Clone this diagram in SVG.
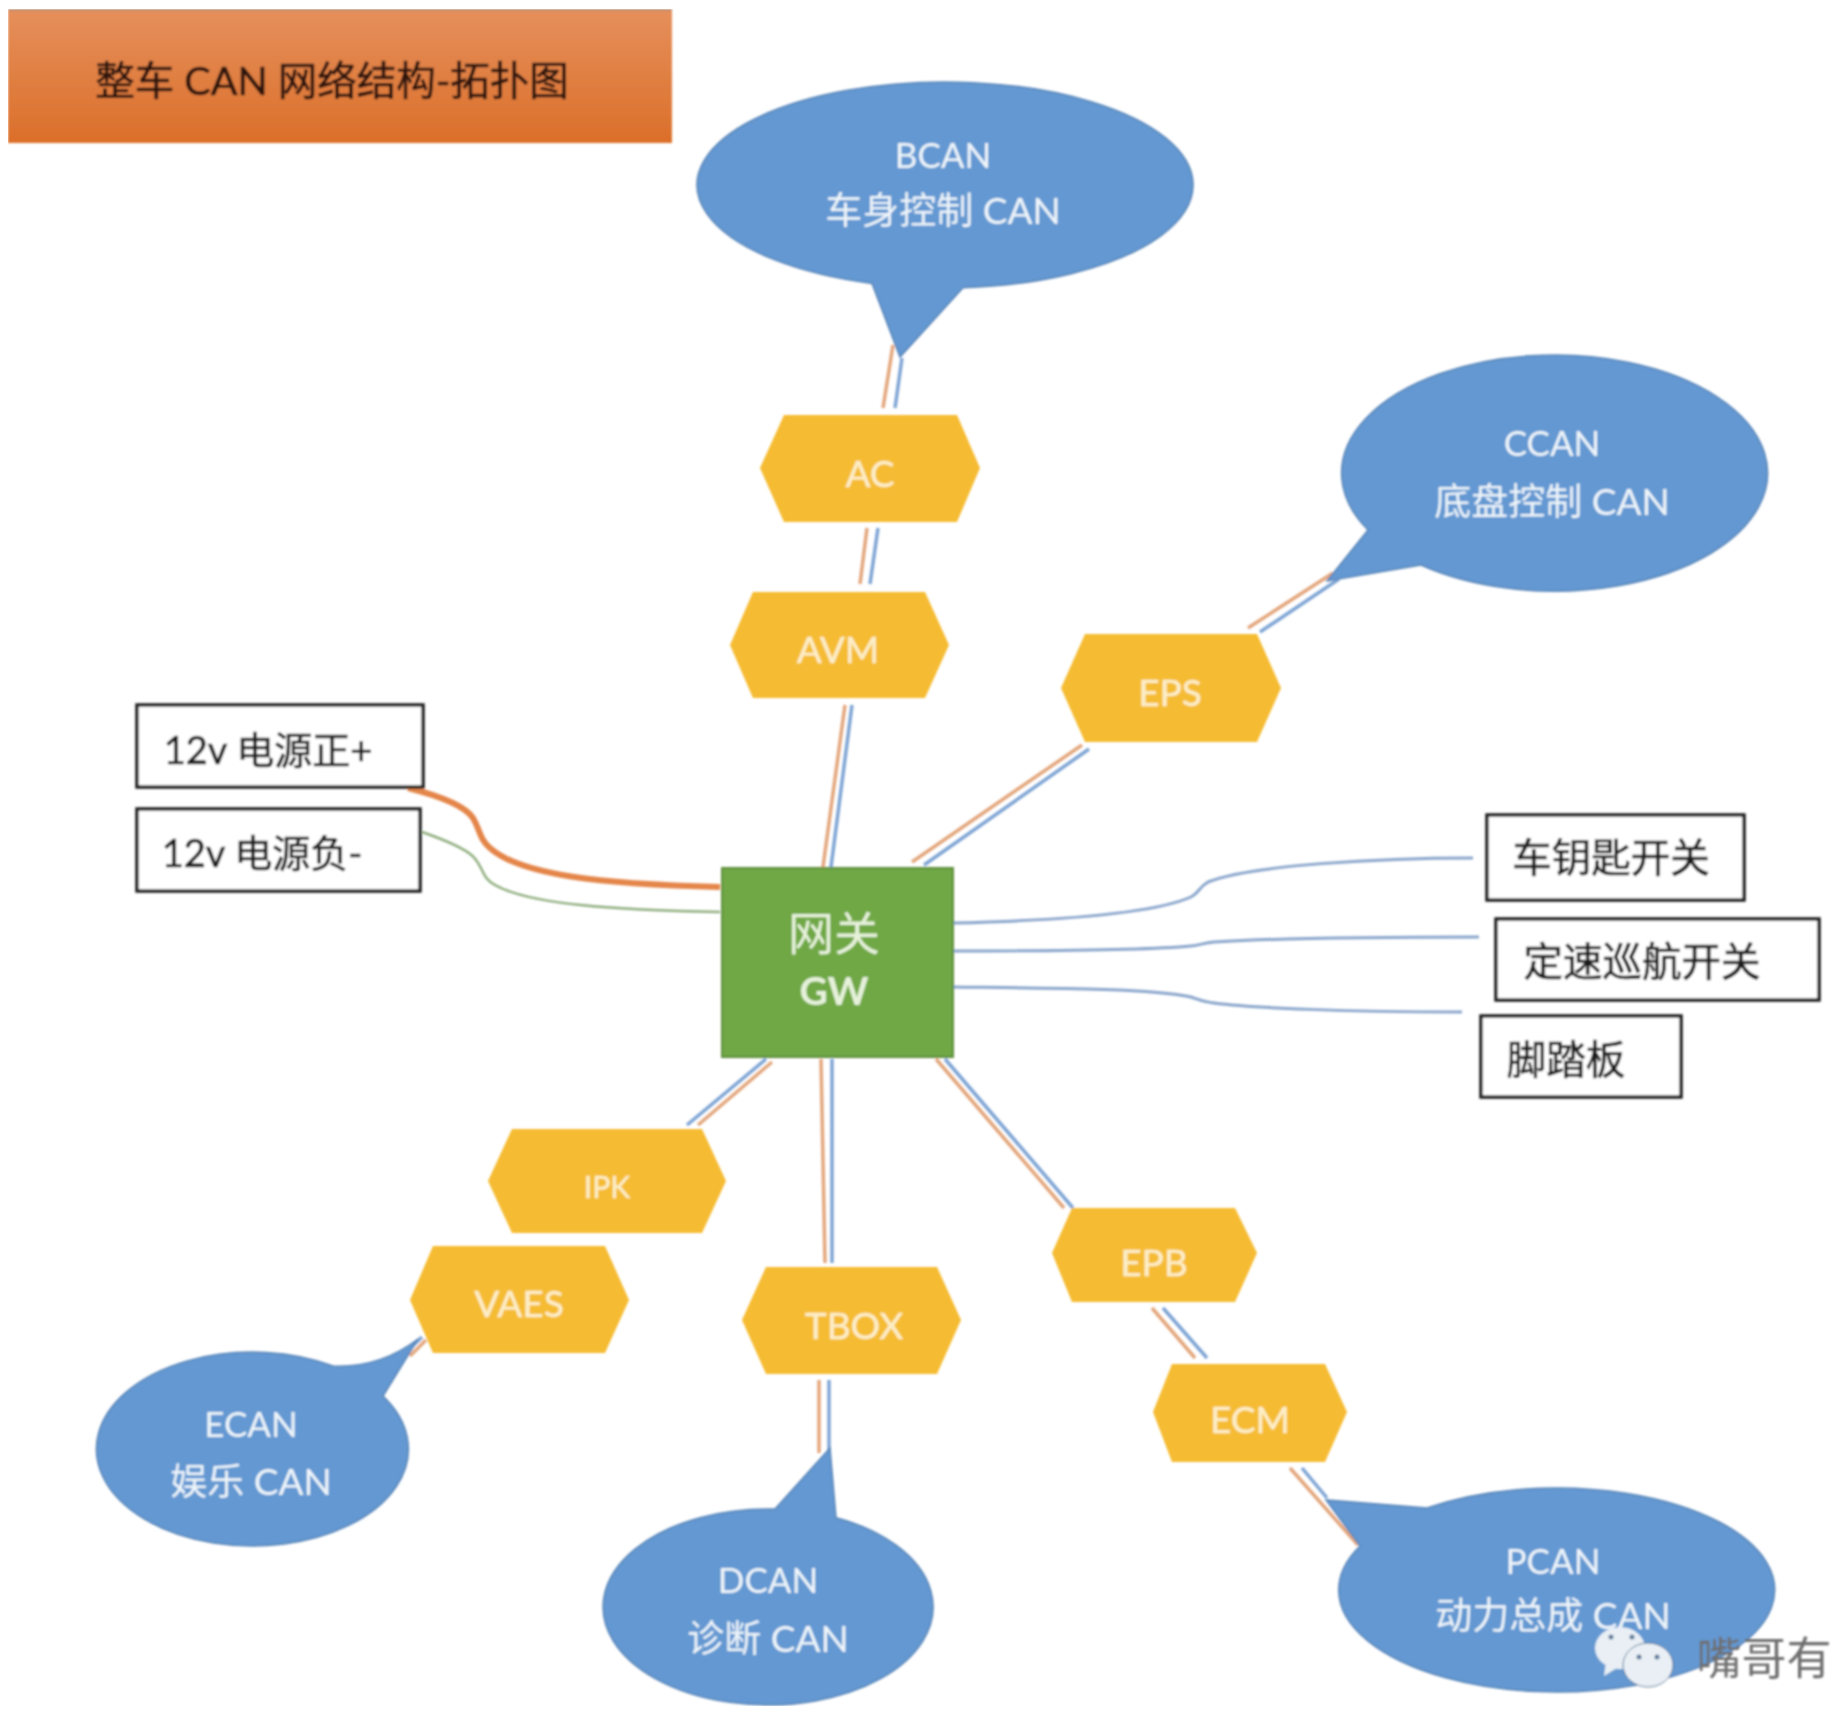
<svg xmlns="http://www.w3.org/2000/svg" width="1834" height="1720" viewBox="0 0 1834 1720">
<style>
text{font-family:Lato,"Noto Sans CJK SC",sans-serif;text-anchor:middle}
.b{fill:#6398d2;stroke:#5a86b8;stroke-width:1.5}
.h{fill:#f5bb30}
.w{fill:#eef5fa;font-size:35px}
.w2{fill:#eef5fa;font-size:37px}
.y{fill:#fdeec8;font-size:37px;stroke:#fdeec8;stroke-width:.4}
.box{fill:#fff;stroke:#222;stroke-width:3.5}
.k{fill:#1c1c1c;font-size:38px;stroke:#1c1c1c;stroke-width:.7}
.k2{fill:#1c1c1c;font-size:39.5px;stroke:#1c1c1c;stroke-width:.7}
.o{stroke:#e3a67c;stroke-width:3.5;fill:none}
.l{stroke:#7ea4d4;stroke-width:3.5;fill:none}
.s{stroke:#8aa6cc;stroke-width:3;fill:none}
.wc{fill:#e9eff5}
.eye{fill:#5f7a99}
</style>
<defs>
<linearGradient id="tg" x1="0" y1="0" x2="0" y2="1"><stop offset="0" stop-color="#e5905c"/><stop offset="1" stop-color="#dc6f2a"/></linearGradient>
<filter id="soft" x="0" y="0" width="100%" height="100%"><feGaussianBlur stdDeviation="0.8"/></filter>
</defs>
<g filter="url(#soft)">
<g id="connectors">
<path class="o" d="M893 345L883 408M867 528L860 584M845 705L823 867M1082 745L912 862M1248 628L1333 573M772 1062L698 1125M410 1356L426 1340M821 1059L825 1263M819 1380L819 1453M936 1059L1064 1208M1152 1308L1195 1358M1290 1468L1358 1545"/>
<path class="l" d="M902 358L895 408M878 528L870 584M852 705L831 867M1089 749L924 865M1260 632L1339 579M766 1059L687 1125M406 1352L422 1337M832 1059L832 1263M829 1380L829 1450M945 1059L1073 1208M1163 1308L1207 1358M1302 1468L1327 1498"/>
<path d="M408 788C440 796 465 806 473 818C480 830 480 840 490 848C520 875 600 884 720 887" fill="none" stroke="#e4854a" stroke-width="6"/>
<path d="M422 832C445 840 470 850 476 860C484 870 482 878 495 885C530 905 620 910 720 912" fill="none" stroke="#8fae7e" stroke-width="2.5"/>
<path class="s" d="M953 923C1040 921 1150 915 1191 897C1200 892 1198 888 1208 882C1250 865 1380 858 1473 858"/>
<path class="s" d="M953 951C1040 951 1150 950 1191 946C1200 945 1204 943 1214 942C1280 938 1400 937 1479 937"/>
<path class="s" d="M953 987C1040 988 1150 988 1191 997C1200 1000 1204 1002 1214 1003C1250 1008 1350 1012 1462 1012"/>
</g>
<g id="title"><rect x="8" y="9" width="664" height="134" fill="url(#tg)"/><rect x="8" y="9" width="664" height="2" fill="#bb8a68"/><text x="332" y="95" fill="#2e1410" stroke="#2e1410" stroke-width=".7" font-size="39.5">整车 CAN 网络结构-拓扑图</text></g>
<g id="bcan"><path class="b" d="M872 283.4L900 357L963 287.7A248 103 0 1 0 872 283.4Z"/><text class="w" x="943" y="168">BCAN</text><text class="w2" x="943" y="224">车身控制 CAN</text></g>
<g id="ccan"><path class="b" d="M1368 530L1327 581L1421 565A213 118 0 1 0 1368 530Z"/><text class="w" x="1552" y="456">CCAN</text><text class="w2" x="1552" y="515">底盘控制 CAN</text></g>
<g id="ecan"><path class="b" d="M333 1366Q380 1368 418 1339L383 1396A156 97 0 1 1 333 1366Z"/><text class="w" x="251" y="1437">ECAN</text><text class="w2" x="251" y="1495">娱乐 CAN</text></g>
<g id="dcan"><path class="b" d="M775 1509.1L830 1448L836 1517.7A165 98 0 1 1 775 1509.1Z"/><text class="w" x="768" y="1593">DCAN</text><text class="w2" x="768" y="1652">诊断 CAN</text></g>
<g id="pcan"><path class="b" d="M1427 1508A218 102 0 1 1 1360 1546L1326 1500Z"/><text class="w" x="1553" y="1574">PCAN</text><text class="w2" x="1553" y="1629">动力总成 CAN</text></g>
<g id="ac"><polygon class="h" points="760,468 784,415 957,415 980,468 957,522 784,522"/><text class="y" x="870" y="487">AC</text></g>
<g id="avm"><polygon class="h" points="730,645 753,592 925,592 949,645 925,698 753,698"/><text class="y" x="838" y="663">AVM</text></g>
<g id="eps"><polygon class="h" points="1061,688 1085,634 1257,634 1281,688 1257,742 1085,742"/><text class="y" x="1170" y="706">EPS</text></g>
<g id="ipk"><polygon class="h" points="488,1181 512,1129 702,1129 726,1181 702,1233 512,1233"/><text class="y" x="607" y="1198" style="font-size:30px">IPK</text></g>
<g id="vaes"><polygon class="h" points="410,1300 433,1246 605,1246 629,1300 605,1353 433,1353"/><text class="y" x="519" y="1317">VAES</text></g>
<g id="tbox"><polygon class="h" points="742,1320 766,1267 937,1267 961,1320 937,1374 766,1374"/><text class="y" x="854" y="1339">TBOX</text></g>
<g id="epb"><polygon class="h" points="1052,1253 1072,1208 1235,1208 1257,1253 1235,1302 1072,1302"/><text class="y" x="1154" y="1276">EPB</text></g>
<g id="ecm"><polygon class="h" points="1153,1412 1172,1364 1325,1364 1347,1412 1325,1462 1172,1462"/><text class="y" x="1250" y="1433">ECM</text></g>
<g id="gw"><rect x="722" y="868" width="231" height="189" fill="#70a844" stroke="#5f8f3c" stroke-width="2"/><text x="834" y="950" fill="#e6f2da" font-size="46">网关</text><text x="834" y="1005" fill="#e6f2da" font-size="39" font-weight="700">GW</text></g>
<g id="p12"><rect class="box" x="137" y="705" width="286" height="82"/><text class="k" x="268" y="764">12v 电源正+</text></g>
<g id="n12"><rect class="box" x="137" y="809" width="283" height="82"/><text class="k" x="262" y="867">12v 电源负-</text></g>
<g id="key"><rect class="box" x="1487" y="815" width="257" height="85"/><text class="k2" x="1611" y="872">车钥匙开关</text></g>
<g id="cruise"><rect class="box" x="1496" y="919" width="323" height="81"/><text class="k2" x="1642" y="976">定速巡航开关</text></g>
<g id="pedal"><rect class="box" x="1481" y="1016" width="200" height="81"/><text class="k2" x="1566" y="1074">脚踏板</text></g>
<g id="watermark"><ellipse class="wc" cx="1620" cy="1648" rx="25" ry="21"/><path class="wc" d="M1606 1662L1604 1676L1620 1666Z"/><ellipse class="wc" cx="1648" cy="1665" rx="25" ry="22" stroke="#5f7a99" stroke-width="1"/><circle class="eye" cx="1611" cy="1637" r="2.5"/><circle class="eye" cx="1632" cy="1637" r="2.5"/><circle class="eye" cx="1639" cy="1657" r="2.5"/><circle class="eye" cx="1657" cy="1657" r="2.5"/><text x="1764" y="1675" fill="#6e6e6e" font-size="45">嘴哥有</text></g>
</g>
</svg>
